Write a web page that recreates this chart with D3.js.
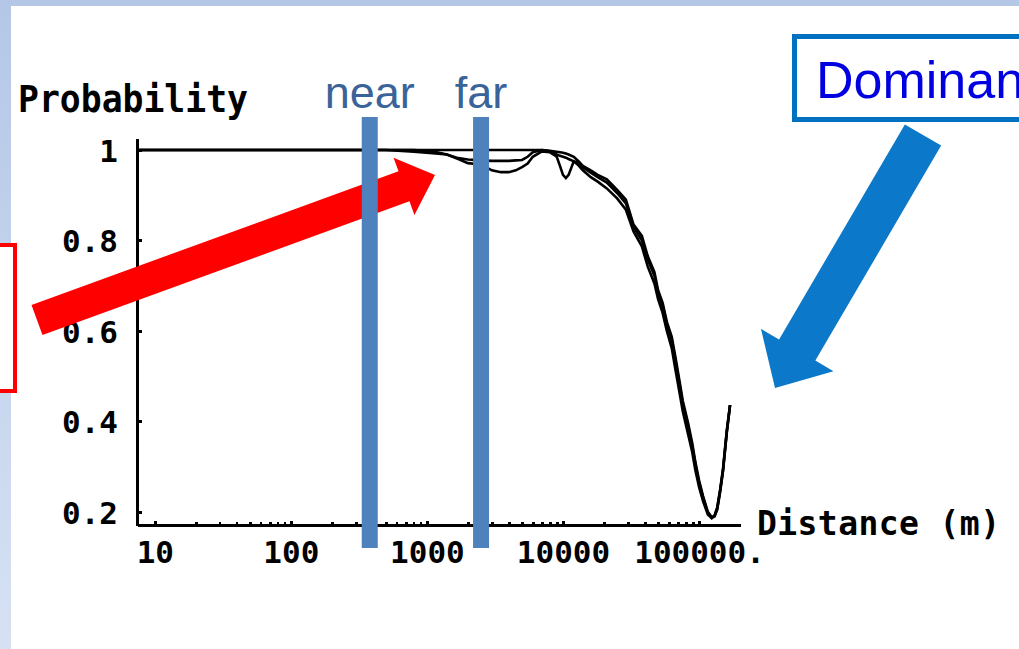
<!DOCTYPE html>
<html>
<head>
<meta charset="utf-8">
<script src="https://cdn.jsdelivr.net/npm/d3@7"></script>
<style>
  html, body { margin: 0; padding: 0; background: #fff; overflow: hidden; }
  svg { display: block; }
</style>
</head>
<body>
<svg id="chart" width="1019" height="649"></svg>
<script>
// ---- data ----------------------------------------------------------------
// distance along the route (m)
const distance = [7.4, 100, 500, 800, 1100, 1400, 1700, 2000, 2500, 3000, 3500, 4000, 4500, 5000,
  5500, 6000, 7000, 8000, 9000, 9500, 10000, 10500, 11000, 12000, 13000, 14000, 16000, 18000,
  21000, 25000, 29000, 33000, 38000, 42000, 47000, 50000, 54000, 58000, 63000, 67000, 72000,
  76000, 83000, 89000, 94000, 100000, 107000, 116000, 124000, 130000, 136000, 143000, 150000,
  160000, 169000];

// probability curves, one value per distance
const probA = [1, 1, 1, 1, 1, 1, 1, 1, 1, 1, 1, 1, 1, 1, 1, 1, 1,
  0.998, 0.996, 0.995, 0.994, 0.992, 0.99, 0.985, 0.975, 0.965, 0.955, 0.945, 0.935, 0.912,
  0.89, 0.835, 0.81, 0.765, 0.73, 0.69, 0.662, 0.62, 0.587, 0.543, 0.488, 0.445, 0.397, 0.353,
  0.31, 0.27, 0.235, 0.2, 0.188, 0.19, 0.205, 0.245, 0.29, 0.375, 0.436];

const probB = [1, 1, 1, 0.996, 0.993, 0.99, 0.982, 0.979, 0.977, 0.976, 0.976, 0.976, 0.977,
  0.978, 0.985, 0.995, 1, 0.997, 0.99, 0.987, 0.985, 0.983, 0.98, 0.975, 0.966, 0.955, 0.94,
  0.93, 0.915, 0.893, 0.868, 0.82, 0.787, 0.742, 0.705, 0.67, 0.64, 0.6, 0.562, 0.515, 0.462,
  0.422, 0.372, 0.333, 0.292, 0.255, 0.224, 0.194, 0.186, 0.192, 0.21, 0.25, 0.295, 0.38, 0.436];

const probC = [1, 1, 1, 1, 0.997, 0.99, 0.98, 0.971, 0.968, 0.955, 0.951, 0.951, 0.955, 0.962,
  0.97, 0.985, 0.997, 0.995, 0.985, 0.965, 0.945, 0.938, 0.945, 0.975, 0.972, 0.962, 0.95,
  0.94, 0.928, 0.905, 0.882, 0.83, 0.8, 0.758, 0.722, 0.685, 0.655, 0.615, 0.58, 0.535, 0.48,
  0.438, 0.39, 0.347, 0.305, 0.265, 0.232, 0.198, 0.187, 0.191, 0.207, 0.247, 0.292, 0.378, 0.436];

const xTickValues = [10, 100, 1000, 10000, 100000];
const xTickLabels = ["10", "100", "1000", "10000", "100000."];
const yTickValues = [0.2, 0.4, 0.6, 0.8, 1];
const yTickLabels = ["0.2", "0.4", "0.6", "0.8", "1"];

const markerNames = ["near", "far"];
const markerDistance = [380, 2500];

const xDomain = [7.4, 200000];
const yDomain = [0.171, 1.0265];

// ---- layout -------------------------------------------------------------
const W = 1019, H = 649;
const plot = { left: 137, right: 740, top: 138, bottom: 525 };
const monoFont = "'DejaVu Sans Mono', monospace";
const sansFont = "'Liberation Sans', Arial, sans-serif";

const svg = d3.select("#chart");

// slide background with the light-blue frame on the top and left
const defs = svg.append("defs");
const grad = defs.append("linearGradient").attr("id", "band").attr("x1", 0).attr("y1", 0).attr("x2", 0).attr("y2", 1);
grad.append("stop").attr("offset", "0%").attr("stop-color", "#b4c7e7");
grad.append("stop").attr("offset", "100%").attr("stop-color", "#d6e1f3");
svg.append("rect").attr("width", W).attr("height", H).attr("fill", "#fff");
svg.append("rect").attr("x", 0).attr("y", 0).attr("width", 11).attr("height", H).attr("fill", "url(#band)");
svg.append("rect").attr("x", 0).attr("y", 0).attr("width", W).attr("height", 6).attr("fill", "#b4c7e7");

// ---- scales ---------------------------------------------------------------
const x = d3.scaleLog().domain(xDomain).range([plot.left, plot.right]);
const y = d3.scaleLinear().domain(yDomain).range([plot.bottom, plot.top]);

const chart = svg.append("g");

// minor log ticks 2..9 in each decade
const minorTicks = [];
xTickValues.slice(0, 4).forEach(dec => { for (let m = 2; m <= 9; m++) minorTicks.push(dec * m); });

chart.append("g")
  .attr("transform", `translate(0,${plot.bottom})`)
  .call(d3.axisBottom(x).tickValues(minorTicks).tickSizeInner(-3).tickSizeOuter(0).tickFormat(""))
  .call(g => g.select(".domain").remove())
  .call(g => g.selectAll(".tick line").attr("stroke", "#000").attr("stroke-width", 2.5).attr("shape-rendering", "crispEdges"));

chart.append("g")
  .attr("transform", `translate(0,${plot.bottom})`)
  .call(d3.axisBottom(x).tickValues(xTickValues).tickSizeInner(-4).tickSizeOuter(0).tickPadding(16)
    .tickFormat((d, i) => xTickLabels[i]))
  .call(g => g.select(".domain").attr("stroke", "#000").attr("stroke-width", 3.5).attr("shape-rendering", "crispEdges"))
  .call(g => g.selectAll(".tick line").attr("stroke", "#000").attr("stroke-width", 2.5).attr("shape-rendering", "crispEdges"))
  .call(g => g.selectAll(".tick text").attr("fill", "#000").attr("font-family", monoFont)
    .attr("font-weight", "bold").attr("font-size", 31));

chart.append("g")
  .attr("transform", `translate(${plot.left},0)`)
  .call(d3.axisLeft(y).tickValues(yTickValues).tickSizeInner(-5).tickSizeOuter(0).tickPadding(19)
    .tickFormat((d, i) => yTickLabels[i]))
  .call(g => g.select(".domain").attr("stroke", "#000").attr("stroke-width", 3).attr("shape-rendering", "crispEdges"))
  .call(g => g.selectAll(".tick line").attr("stroke", "#000").attr("stroke-width", 3).attr("shape-rendering", "crispEdges"))
  .call(g => g.selectAll(".tick text").attr("fill", "#000").attr("font-family", monoFont)
    .attr("font-weight", "bold").attr("font-size", 31).attr("dy", "0.36em"));

// axis titles
chart.append("text")
  .attr("x", 18).attr("y", 112)
  .attr("font-family", monoFont).attr("font-weight", "bold").attr("font-size", 37)
  .attr("textLength", 230).attr("lengthAdjust", "spacingAndGlyphs")
  .attr("fill", "#000").text("Probability");

chart.append("text")
  .attr("x", 757).attr("y", 535)
  .attr("font-family", monoFont).attr("font-weight", "bold").attr("font-size", 33)
  .attr("textLength", 243).attr("lengthAdjust", "spacing")
  .attr("fill", "#000").text("Distance (m)");

// probability curves
const line = d3.line().x((d, i) => x(distance[i])).y(d => y(d));
[probA, probB, probC].forEach(series => {
  chart.append("path")
    .datum(series)
    .attr("d", line)
    .attr("fill", "none")
    .attr("stroke", "#000")
    .attr("stroke-width", 2.6)
    .attr("stroke-linejoin", "miter");
});

// ---- annotations ----------------------------------------------------------
function arrowPoints(x0, y0, x1, y1, shaftHalf, headHalf, headLen) {
  const dx = x1 - x0, dy = y1 - y0, L = Math.hypot(dx, dy);
  const ux = dx / L, uy = dy / L, nx = -uy, ny = ux;
  const bx = x1 - ux * headLen, by = y1 - uy * headLen;
  return [
    [x0 + nx * shaftHalf, y0 + ny * shaftHalf],
    [bx + nx * shaftHalf, by + ny * shaftHalf],
    [bx + nx * headHalf, by + ny * headHalf],
    [x1, y1],
    [bx - nx * headHalf, by - ny * headHalf],
    [bx - nx * shaftHalf, by - ny * shaftHalf],
    [x0 - nx * shaftHalf, y0 - ny * shaftHalf]
  ].map(p => p.join(",")).join(" ");
}

// red arrow pointing into the plateau
svg.append("polygon")
  .attr("points", arrowPoints(37, 320, 435, 175, 16, 30.5, 33))
  .attr("fill", "#fe0000");

// near / far markers
const markers = svg.append("g");
markerDistance.forEach((d, i) => {
  markers.append("rect")
    .attr("x", x(d) - 8).attr("y", 117)
    .attr("width", 16).attr("height", 431)
    .attr("fill", "#4f81bd");
  markers.append("text")
    .attr("x", x(d)).attr("y", 108)
    .attr("text-anchor", "middle")
    .attr("font-family", sansFont).attr("font-size", 45)
    .attr("fill", "#3a6399")
    .text(markerNames[i]);
});

// "Dominant" callout with its arrow
svg.append("polygon")
  .attr("points", arrowPoints(923, 135, 775, 388, 21, 42, 44))
  .attr("fill", "#0b78c9");

svg.append("rect")
  .attr("x", 794.5).attr("y", 36.5).attr("width", 300).attr("height", 83)
  .attr("fill", "#fff").attr("stroke", "#0070c0").attr("stroke-width", 5);
svg.append("text")
  .attr("x", 816).attr("y", 98)
  .attr("font-family", sansFont).attr("font-size", 52)
  .attr("fill", "#0000e0").text("Dominant");

// red callout box on the left edge
svg.append("rect")
  .attr("x", -10).attr("y", 245).attr("width", 25).attr("height", 146)
  .attr("fill", "#fff").attr("stroke", "#ff0000").attr("stroke-width", 4);
</script>
</body>
</html>
